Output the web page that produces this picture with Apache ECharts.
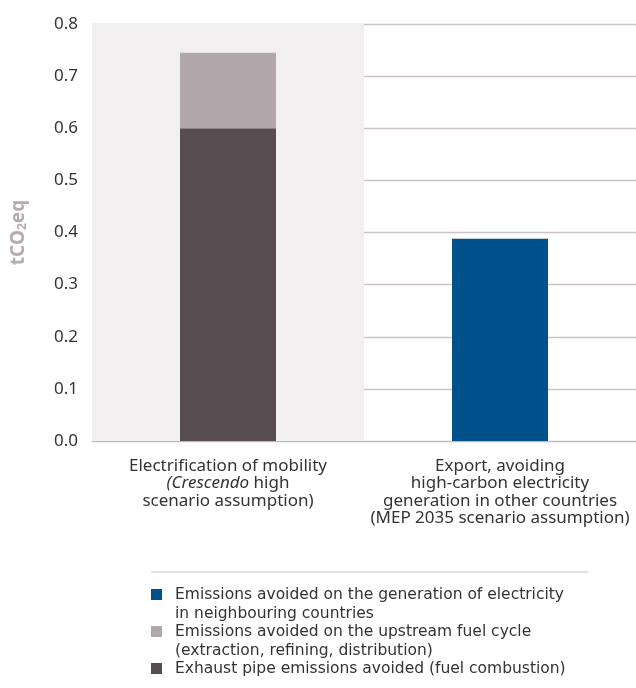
<!DOCTYPE html>
<html>
<head>
<meta charset="utf-8">
<script src="https://cdn.jsdelivr.net/npm/echarts@6/dist/echarts.min.js"></script>
<style>html,body{margin:0;padding:0;background:#fff}#chart{width:636px;height:688px}</style>
</head>
<body>
<div id="chart"></div>
<script>
// Avoided emissions per unit, two cases
const categories = ['mobility', 'export'];
const exhaustValues = [0.6, null];      // fuel combustion
const upstreamValues = [0.145, null];   // upstream fuel cycle
const neighbourValues = [null, 0.388];  // electricity generation abroad
const yTicks = { min: 0, max: 0.8, interval: 0.1 };

const seriesNames = [
  'Emissions avoided on the generation of electricity\nin neighbouring countries',
  'Emissions avoided on the upstream fuel cycle\n(extraction, refining, distribution)',
  'Exhaust pipe emissions avoided (fuel combustion)'
];
const colors = { neighbour: '#005189', upstream: '#b2a7ab', exhaust: '#574c50' };

const catLabels = {
  mobility: '{n|Electrification of mobility}\n{i|(Crescendo}{n| high}\n{n|scenario assumption)}',
  export: '{n|Export, avoiding}\n{n|high-carbon electricity}\n{n|generation in other countries}\n{n|(MEP 2035 scenario assumption)}'
};

const chart = echarts.init(document.getElementById('chart'));
const font = 'Noto Sans';

// legend block: squares with wrapped text, under a thin rule
const legendItems = [
  { name: seriesNames[0], color: colors.neighbour },
  { name: seriesNames[1], color: colors.upstream },
  { name: seriesNames[2], color: colors.exhaust }
];
const legendGraphics = [{
  type: 'line', shape: { x1: 151, y1: 572, x2: 588, y2: 572 },
  style: { stroke: '#c9c1c4', lineWidth: 1 }
}];
let ly = 586;
legendItems.forEach(it => {
  const lines = it.name.split('\n').length;
  legendGraphics.push({ type: 'rect', shape: { x: 151, y: ly + 3, width: 11, height: 11 }, style: { fill: it.color } });
  legendGraphics.push({
    type: 'text', x: 175, y: ly,
    style: { text: it.name, font: '15.5px "DejaVu Sans"', fill: '#333', lineHeight: 18.5 }
  });
  ly += lines * 18.5;
});

chart.setOption({
  animation: false,
  grid: { left: 92, right: 0, top: 24, bottom: 247 },
  xAxis: {
    type: 'category',
    data: categories,
    axisTick: { show: false },
    axisLine: { lineStyle: { color: '#c3b8bc', width: 1 } },
    splitArea: { show: true, areaStyle: { color: ['#f2eff0', 'rgba(255,255,255,0)'] } },
    axisLabel: {
      margin: 16,
      formatter: v => catLabels[v],
      rich: {
        n: { fontFamily: font, fontSize: 17, color: '#333', lineHeight: 17.5 },
        i: { fontFamily: font, fontSize: 17, color: '#333', fontStyle: 'italic', lineHeight: 17.5 }
      }
    }
  },
  yAxis: {
    type: 'value',
    min: yTicks.min, max: yTicks.max, interval: yTicks.interval,
    axisLine: { show: false },
    axisTick: { show: false },
    splitLine: { lineStyle: { color: '#cdc2c6', width: 1.3 } },
    axisLabel: { formatter: v => v.toFixed(1), fontFamily: font, fontSize: 17, color: '#333', margin: 14 },
    name: '{b|tCO}{s|2}{b|eq}',
    nameLocation: 'middle',
    nameGap: 63,
    nameRotate: 90,
    nameTextStyle: {
      rich: {
        b: { fontFamily: font, fontSize: 19, fontWeight: 'bold', color: '#b6aaaf' },
        s: { fontFamily: font, fontSize: 12, fontWeight: 'bold', color: '#b6aaaf', padding: [9, 0, 0, 0] }
      }
    }
  },
  series: [
    { name: seriesNames[2], type: 'bar', stack: 'all', barWidth: 96, data: exhaustValues, itemStyle: { color: colors.exhaust } },
    { name: seriesNames[1], type: 'bar', stack: 'all', barWidth: 96, data: upstreamValues, itemStyle: { color: colors.upstream } },
    { name: seriesNames[0], type: 'bar', stack: 'all', barWidth: 96, data: neighbourValues, itemStyle: { color: colors.neighbour } }
  ],
  graphic: legendGraphics
});
</script>
</body>
</html>
